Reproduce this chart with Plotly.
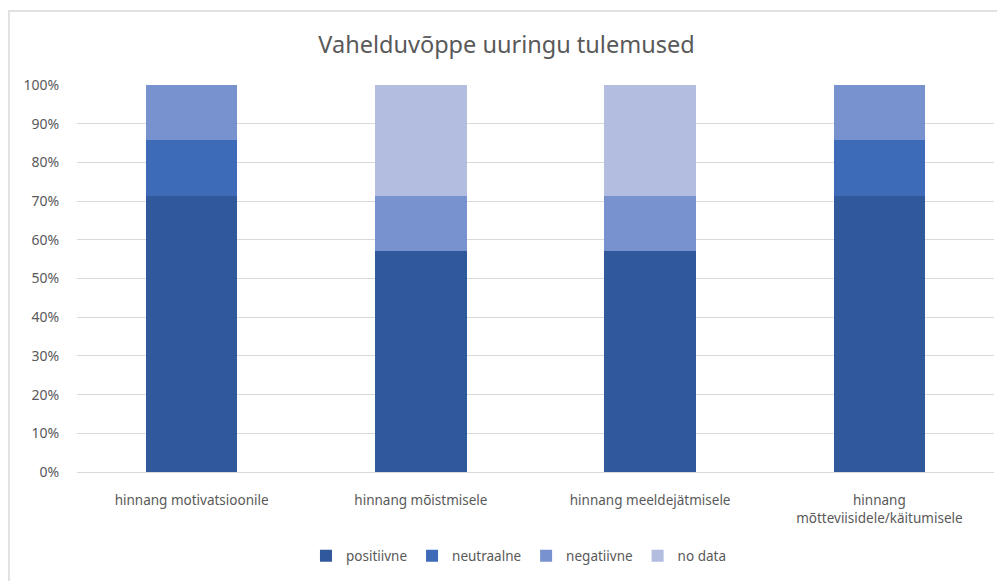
import plotly.graph_objects as go

categories = ["hinnang motivatsioonile", "hinnang mõistmisele", "hinnang meeldejätmisele",
              "hinnang<br>mõtteviisidele/käitumisele"]
series_names = ["positiivne", "neutraalne", "negatiivne", "no data"]
positiivne = [0.714, 0.571, 0.571, 0.714]
neutraalne = [0.143, 0.0, 0.0, 0.143]
negatiivne = [0.143, 0.143, 0.143, 0.143]
no_data = [0.0, 0.286, 0.286, 0.0]
colors = ["#30599b", "#3e6bb8", "#7891cf", "#b2bde0"]

fig = go.Figure()
for name, vals, col in zip(series_names, [positiivne, neutraalne, negatiivne, no_data], colors):
    fig.add_trace(go.Bar(x=categories, y=vals, name=name, marker_color=col,
                         marker_line_width=0))

font_family = "Noto Sans, Open Sans, sans-serif"
# page body has an 8px margin, so the figure is made 8px smaller
fig.update_layout(
    barmode="stack",
    bargap=0.6,
    width=997, height=573,
    margin=dict(l=69, r=11, t=77, b=109),
    paper_bgcolor="white", plot_bgcolor="white",
    font=dict(family=font_family, size=13, color="#595959"),
    title=dict(text="Vahelduvõppe uuringu tulemused", x=0.5, xanchor="center",
               y=0.935, yanchor="middle", font=dict(size=23.5, color="#595959")),
    legend=dict(orientation="h", x=0.512, xanchor="center", xref="container",
                y=0.0436, yanchor="middle", yref="container",
                font=dict(size=13.5, color="#595959"), itemwidth=30,
                traceorder="normal"),
    yaxis=dict(range=[0, 1], tickformat=".0%", dtick=0.1, gridcolor="#d9d9d9",
               showline=False, zeroline=False, ticks="outside", ticklen=14,
               tickcolor="rgba(0,0,0,0)", automargin=False,
               tickfont=dict(size=14, color="#595959")),
    xaxis=dict(showline=True, linecolor="#d9d9d9", ticks="outside", ticklen=16,
               tickcolor="rgba(0,0,0,0)", automargin=False,
               tickfont=dict(size=13.5, color="#595959")),
    shapes=[dict(type="rect", xref="paper", yref="paper",
                 x0=-0.0742, x1=1.03, y0=-0.31, y1=1.191,
                 line=dict(color="#d9d9d9", width=1.5), fillcolor="rgba(0,0,0,0)",
                 layer="below")],
)

fig.write_html("out.html")
